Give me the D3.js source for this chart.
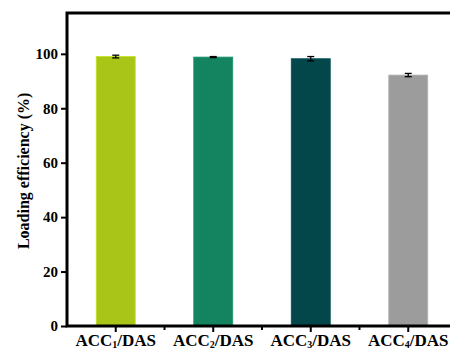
<!DOCTYPE html>
<html>
<head>
<meta charset="utf-8">
<script src="https://cdn.jsdelivr.net/npm/d3@7"></script>
<style>
  body { margin: 0; background: #fff; }
</style>
</head>
<body>
<div id="chart"></div>
<script>
const categories = ["ACC1/DAS", "ACC2/DAS", "ACC3/DAS", "ACC4/DAS"];
const subscripts = ["1", "2", "3", "4"];
const values = [99.0, 98.8, 98.2, 92.2];
const errors = [0.5, 0.2, 0.8, 0.6];
const barColors = ["#a9c517", "#13845f", "#03474b", "#9c9c9c"];
const yTicks = [0, 20, 40, 60, 80, 100];

const FONT = '"Liberation Serif", "Times New Roman", serif';

const width = 450, height = 351;
const margin = { top: 13, right: -7, bottom: 25, left: 67 };

const svg = d3.select("#chart").append("svg")
  .attr("width", width)
  .attr("height", height);

const x = d3.scaleBand()
  .domain(categories)
  .range([margin.left, width - margin.right])
  .paddingInner(0.6)
  .paddingOuter(0.3);

const y = d3.scaleLinear()
  .domain([0, 115])
  .range([height - margin.bottom, margin.top]);

// ---------- BARS ----------
svg.selectAll("rect.bar")
  .data(values)
  .enter()
  .append("rect")
  .attr("class", "bar")
  .attr("x", (d, i) => x(categories[i]))
  .attr("width", x.bandwidth())
  .attr("y", d => y(d))
  .attr("height", d => y(0) - y(d))
  .attr("fill", (d, i) => barColors[i])
  .attr("stroke", (d, i) => d3.color(barColors[i]).brighter(0.4))
  .attr("stroke-width", 0.8);

// ---------- ERROR BARS ----------
const err = svg.selectAll("g.err")
  .data(values)
  .enter()
  .append("g")
  .attr("class", "err")
  .attr("stroke", "#000")
  .attr("stroke-width", 1.3);

const cx = i => x(categories[i]) + x.bandwidth() / 2;

err.append("line")
  .attr("x1", (d, i) => cx(i)).attr("x2", (d, i) => cx(i))
  .attr("y1", (d, i) => y(d + errors[i])).attr("y2", (d, i) => y(d - errors[i]));
err.append("line")
  .attr("x1", (d, i) => cx(i) - 3.5).attr("x2", (d, i) => cx(i) + 3.5)
  .attr("y1", (d, i) => y(d + errors[i])).attr("y2", (d, i) => y(d + errors[i]));
err.append("line")
  .attr("x1", (d, i) => cx(i) - 3.5).attr("x2", (d, i) => cx(i) + 3.5)
  .attr("y1", (d, i) => y(d - errors[i])).attr("y2", (d, i) => y(d - errors[i]));

// ---------- Y AXIS ----------
const yAxis = svg.append("g")
  .attr("transform", `translate(${margin.left},0)`)
  .call(d3.axisLeft(y).tickValues(yTicks).tickSize(6).tickPadding(3));
yAxis.select(".domain").remove();
yAxis.selectAll(".tick line").attr("stroke-width", 2);
yAxis.selectAll(".tick text")
  .style("font-family", FONT)
  .style("font-weight", "bold")
  .style("font-size", "15px")
  .attr("fill", "#000");

// ---------- X AXIS ----------
const xAxis = svg.append("g")
  .attr("transform", `translate(0,${y(0)})`)
  .call(d3.axisBottom(x).tickSize(6).tickPadding(4).tickFormat(""));
xAxis.select(".domain").remove();
xAxis.selectAll(".tick line").attr("stroke-width", 2);

// minor ticks between categories
const step = x.step();
svg.selectAll("line.minor")
  .data(categories.slice(1))
  .enter()
  .append("line")
  .attr("class", "minor")
  .attr("x1", d => x(d) - (step - x.bandwidth()) / 2)
  .attr("x2", d => x(d) - (step - x.bandwidth()) / 2)
  .attr("y1", y(0))
  .attr("y2", y(0) + 4)
  .attr("stroke", "#000")
  .attr("stroke-width", 2);

// category labels with subscripts
const labels = svg.selectAll("text.xlab")
  .data(categories)
  .enter()
  .append("text")
  .attr("class", "xlab")
  .attr("x", d => x(d) + x.bandwidth() / 2)
  .attr("y", y(0) + 20)
  .attr("text-anchor", "middle")
  .style("font-family", FONT)
  .style("font-weight", "bold")
  .style("font-size", "17px")
  .attr("fill", "#000");
labels.append("tspan").text("ACC");
labels.append("tspan").style("font-size", "10px").attr("dy", 2).text((d, i) => subscripts[i]);
labels.append("tspan").attr("dy", -2).text("/DAS");

// ---------- FRAME ----------
svg.append("path")
  .attr("d", `M${margin.left},${y(0)}V${margin.top}H${width + 10}M${margin.left - 1.5},${y(0)}H${width + 10}`)
  .attr("fill", "none")
  .attr("stroke", "#000")
  .attr("stroke-width", 3);

// ---------- Y LABEL ----------
svg.append("text")
  .attr("transform", `translate(29,${y(57)}) rotate(-90)`)
  .attr("text-anchor", "middle")
  .style("font-family", FONT)
  .style("font-weight", "bold")
  .style("font-size", "16px")
  .attr("fill", "#000")
  .text("Loading efficiency (%)");
</script>
</body>
</html>
